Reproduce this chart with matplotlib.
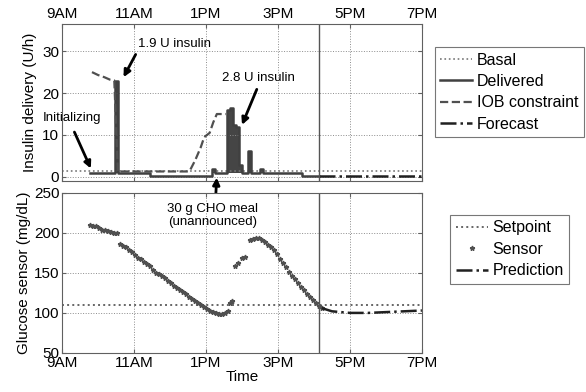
import matplotlib
matplotlib.use("Agg")
import matplotlib.pyplot as plt
import numpy as np

plt.rcParams['font.family'] = ['Liberation Sans', 'DejaVu Sans']

#%% Data (time in hours after 9AM for insulin, minutes after 9AM for glucose)
tick_pos = [0, 2, 4, 6, 8, 10]
tick_labels = ['9AM', '11AM', '1PM', '3PM', '5PM', '7PM']
now_h = 7.14

basal_t = [0.0, 10.0]
basal_r = [1.3, 1.3]

deliv_t = [0.78, 1.46, 1.54, 2.45, 4.17, 4.25, 4.58, 4.67, 4.75, 4.83,
           4.92, 5.0, 5.17, 5.25, 5.5, 5.58, 6.67, 7.14]
deliv_r = [1.0, 22.8, 1.0, 0.2, 2.0, 1.0, 16.0, 16.5, 12.5, 12.0,
           2.8, 1.0, 6.2, 1.0, 1.8, 1.0, 0.3, 0.3]

iob_t = [0.83, 1.0, 1.17, 1.33, 1.45, 1.55, 3.5, 3.55, 3.7, 3.85, 3.95,
         4.1, 4.2, 4.3, 4.55]
iob_r = [25.0, 24.3, 23.8, 23.2, 23.0, 1.3, 1.3, 1.5, 4.0, 7.0, 9.5,
         10.5, 13.0, 15.0, 15.0]

fcst_t = [7.14, 10.0]
fcst_r = [0.2, 0.2]

setpoint_t = [0, 600]
setpoint_g = [110, 110]

sensor_min = [47, 52, 57, 62, 67, 72, 77, 82, 87, 92,
              96, 101, 106, 111, 116, 121, 126, 131, 136, 141,
              146, 151, 156, 161, 166, 171, 176, 181, 186, 191,
              196, 201, 206, 211, 216, 221, 226, 231, 236, 241,
              246, 251, 256, 261, 266, 271, 276, 280, 283,
              288, 293, 300, 305,
              313, 318, 323, 328, 333, 338, 343, 348, 353, 358,
              363, 368, 373, 378, 383, 388, 393, 398, 403, 408,
              413, 418, 423, 428, 433]
sensor_g = [210, 209, 208, 206, 204, 203, 202, 201, 200, 200,
            186, 184, 182, 179, 176, 172, 169, 167, 164, 161,
            158, 153, 150, 148, 146, 143, 140, 137, 134, 131,
            129, 126, 123, 120, 117, 115, 112, 110, 108, 105,
            103, 101, 100, 99, 99, 100, 102, 112, 115,
            159, 162, 168, 170,
            191, 192, 194, 193, 191, 188, 185, 182, 178, 173,
            167, 162, 157, 151, 146, 142, 137, 132, 128, 124,
            120, 116, 112, 109, 106]

pred_min = [433, 450, 480, 510, 540, 570, 600]
pred_g = [106, 102, 100, 100, 101, 102, 103]

#%% Figure
fig = plt.figure(figsize=(5.86, 3.92), dpi=100)
ax1 = fig.add_axes([0.106, 0.538, 0.614, 0.401])
ax2 = fig.add_axes([0.106, 0.0995, 0.614, 0.409])

grid_kw = dict(color='#8c8c8c', linestyle=':', linewidth=0.7)
spine_col = '#606060'

# Insulin panel
ax1.plot(basal_t, basal_r, linestyle=':', color='#777777', lw=1.2, label='Basal')
# fill only the bolus bars above the basal-ish level
ax1.fill_between(deliv_t, 1.0, np.maximum(deliv_r, 1.0), step='post',
                 color='#454545', lw=0)
ax1.plot(deliv_t, deliv_r, drawstyle='steps-post', color='#404040', lw=1.8, label='Delivered')
ax1.plot(iob_t, iob_r, linestyle='--', color='#505050', lw=1.6, label='IOB constraint')
ax1.plot(fcst_t, fcst_r, linestyle='-.', color='#202020', lw=1.8, label='Forecast')
ax1.axvline(now_h, color='#555555', lw=1.0)
ax1.set_xlim(0, 10)
ax1.set_ylim(-1, 36.5)
ax1.set_yticks([0, 10, 20, 30])
ax1.set_xticks(tick_pos)
ax1.set_xticklabels(tick_labels)
ax1.xaxis.tick_top()
ax1.tick_params(direction='in', labelsize=11, length=3, top=True, right=True,
                bottom=True, labelbottom=False, pad=2, color=spine_col)
ax1.grid(True, **grid_kw)
ax1.set_ylabel('Insulin delivery (U/h)', fontsize=11, labelpad=4)

ann_arrow = dict(arrowstyle='-|>', color='black', lw=2, mutation_scale=10)
ax1.text(-0.53, 14.0, 'Initializing', fontsize=9.5, va='center', ha='left')
ax1.annotate('', xy=(0.83, 1.4), xytext=(0.31, 11.3), arrowprops=ann_arrow)
ax1.text(2.11, 31.7, '1.9 U insulin', fontsize=9.5, va='center', ha='left')
ax1.annotate('', xy=(1.67, 23.2), xytext=(2.08, 29.8), arrowprops=ann_arrow)
ax1.text(4.44, 23.6, '2.8 U insulin', fontsize=9.5, va='center', ha='left')
ax1.annotate('', xy=(4.97, 11.8), xytext=(5.44, 21.5), arrowprops=ann_arrow)

leg1 = ax1.legend(loc='upper left', bbox_to_anchor=(0.742, 0.880),
                  bbox_transform=fig.transFigure, fontsize=11.5, fancybox=False,
                  framealpha=1, edgecolor='#777777', handlelength=2.0,
                  borderpad=0.35, labelspacing=0.4, handletextpad=0.3,
                  borderaxespad=0)
leg1.get_frame().set_linewidth(0.8)

# Glucose panel
ax2.plot(np.array(setpoint_t) / 60.0, setpoint_g, linestyle=':', color='#666666',
         lw=1.4, label='Setpoint')
ax2.plot(np.array(sensor_min) / 60.0, sensor_g, linestyle='none', marker='*',
         markersize=3.5, color='#505050', label='Sensor')
ax2.plot(np.array(pred_min) / 60.0, pred_g, linestyle='-.', color='#202020',
         lw=1.8, label='Prediction')
ax2.axvline(now_h, color='#555555', lw=1.0)
ax2.set_xlim(0, 10)
ax2.set_ylim(50, 250)
ax2.set_yticks([50, 100, 150, 200, 250])
ax2.set_xticks(tick_pos)
ax2.set_xticklabels(tick_labels)
ax2.tick_params(direction='in', labelsize=11, length=3, top=True, right=True,
                pad=2, color=spine_col)
ax2.grid(True, **grid_kw)
ax2.set_ylabel('Glucose sensor (mg/dL)', fontsize=11, labelpad=2)
ax2.set_xlabel('Time', fontsize=11, labelpad=0)

for ax in (ax1, ax2):
    for sp in ax.spines.values():
        sp.set_color(spine_col)

ax2.text(4.19, 222, '30 g CHO meal\n(unannounced)', fontsize=9.5,
         ha='center', va='center', linespacing=1.1)
ax1.annotate('', xy=(4.3, 0.5), xytext=(4.27, 246), textcoords=ax2.transData,
             arrowprops=ann_arrow, annotation_clip=False)

leg2 = ax2.legend(loc='upper left', bbox_to_anchor=(0.768, 0.452),
                  bbox_transform=fig.transFigure, fontsize=11.5, fancybox=False,
                  framealpha=1, edgecolor='#777777', handlelength=2.0,
                  borderpad=0.35, labelspacing=0.4, handletextpad=0.3,
                  borderaxespad=0)
leg2.get_frame().set_linewidth(0.8)

fig.savefig('out.png', dpi=100)
